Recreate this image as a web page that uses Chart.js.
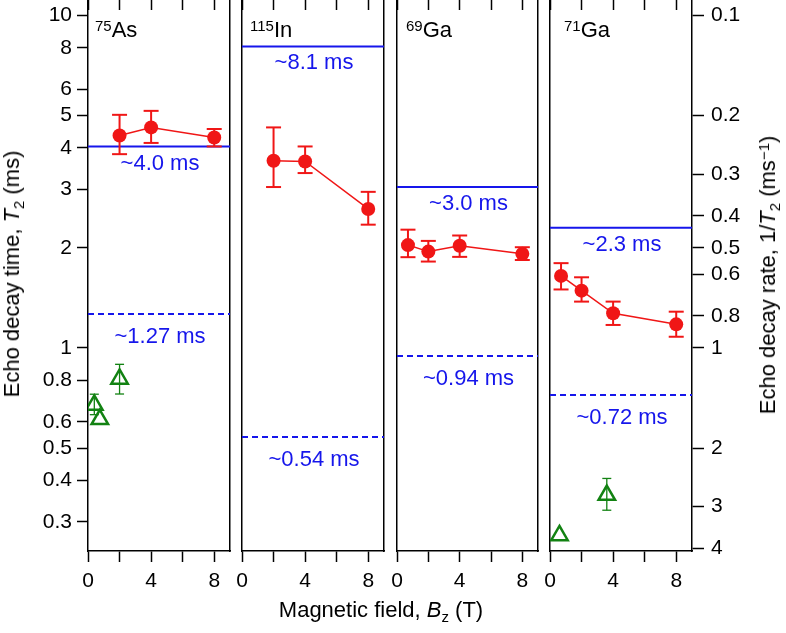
<!DOCTYPE html>
<html>
<head>
<meta charset="utf-8">
<script src="https://cdn.jsdelivr.net/npm/chart.js@4.4.0/dist/chart.umd.min.js"></script>
<style>
  body { margin: 0; background: #fff; }
  #wrap { position: relative; width: 786px; height: 633px; overflow: hidden; font-family: "Liberation Sans", Arial, sans-serif; color: #000; }
  canvas { position: absolute; top: -2px; }
  .lbl { position: absolute; font-size: 22px; line-height: 22px; white-space: nowrap; }
  .sup { font-size: 15px; position: relative; top: -6px; }
  .sub { font-size: 15px; position: relative; top: 5px; }
  .rot { transform: translate(-50%, -50%) rotate(-90deg); }
  .ctr { transform: translate(-50%, -50%); }
</style>
</head>
<body>
<div id="wrap">
  <canvas id="c1" width="232" height="635" style="left:0px"></canvas>
  <canvas id="c2" width="156" height="635" style="left:230px"></canvas>
  <canvas id="c3" width="155" height="635" style="left:385px"></canvas>
  <canvas id="c4" width="248" height="635" style="left:538px"></canvas>

  <div class="lbl" style="left:95px;top:19px"><span class="sup">75</span>As</div>
  <div class="lbl" style="left:250px;top:19px"><span class="sup">115</span>In</div>
  <div class="lbl" style="left:406px;top:19px"><span class="sup">69</span>Ga</div>
  <div class="lbl" style="left:564px;top:19px"><span class="sup">71</span>Ga</div>

  <div class="lbl rot" style="left:13px;top:274px">Echo decay time, <i>T</i><span class="sub">2</span> (ms)</div>
  <div class="lbl rot" style="left:769px;top:275px">Echo decay rate, 1/<i>T</i><span class="sub">2</span> (ms<span class="sup">−1</span>)</div>
  <div class="lbl ctr" style="left:381px;top:611px">Magnetic field, <i>B</i><span class="sub">z</span> (T)</div>
</div>
<script>
// shared axes
const yMin = 0.245;
const yMax = 11.3;
const t2Ticks = [0.3, 0.4, 0.5, 0.6, 0.8, 1, 2, 3, 4, 5, 6, 8, 10];
const rateTicks = [0.1, 0.2, 0.3, 0.4, 0.5, 0.6, 0.8, 1, 2, 3, 4];
const fieldTicks = [0, 2, 4, 6, 8];

// 75As
const asField = [2, 4, 8];
const asT2 = [4.36, 4.61, 4.30];
const asLow = [3.83, 4.14, 4.04];
const asHigh = [5.03, 5.17, 4.56];
const asTriField = [0.4, 0.75, 2];
const asTriT2 = [0.674, 0.61, 0.807];
const asTriLow = [0.63, null, 0.727];
const asTriHigh = [0.726, null, 0.893];
const asLines = [4.04, 1.266];
const asNotes = ['~4.0 ms', '~1.27 ms'];

// 115In
const inField = [2, 4, 8];
const inT2 = [3.66, 3.64, 2.62];
const inLow = [3.05, 3.36, 2.35];
const inHigh = [4.61, 4.04, 2.95];
const inLines = [8.08, 0.54];
const inNotes = ['~8.1 ms', '~0.54 ms'];

// 69Ga
const ga69Field = [0.7, 2, 4, 8];
const ga69T2 = [2.04, 1.95, 2.03, 1.92];
const ga69Low = [1.876, 1.82, 1.88, 1.84];
const ga69High = [2.27, 2.10, 2.18, 2.01];
const ga69Lines = [3.05, 0.946];
const ga69Notes = ['~3.0 ms', '~0.94 ms'];

// 71Ga
const ga71Field = [0.7, 2, 4, 8];
const ga71T2 = [1.648, 1.488, 1.272, 1.178];
const ga71Low = [1.50, 1.379, 1.173, 1.081];
const ga71High = [1.80, 1.632, 1.379, 1.286];
const ga71TriField = [0.6, 3.6];
const ga71TriT2 = [0.273, 0.361];
const ga71TriLow = [null, 0.325];
const ga71TriHigh = [null, 0.405];
const ga71Lines = [2.30, 0.722];
const ga71Notes = ['~2.3 ms', '~0.72 ms'];

const red = 'rgb(240,22,22)';
const blue = 'rgb(22,22,235)';
const green = 'rgb(18,130,18)';
const fontFamily = '"Liberation Sans", Arial, sans-serif';

Chart.defaults.font.family = fontFamily;
Chart.defaults.font.size = 21;
Chart.defaults.color = '#000';

function pts(xs, ys) {
    return xs.map((x, i) => ({ x: x, y: ys[i] }));
}

function errorBars(xs, lo, hi, color, width, cap) {
    const out = [];
    xs.forEach((x, i) => {
        if (lo[i] == null) return;
        out.push({
            data: [{ x: x, y: lo[i] }, { x: x, y: hi[i] }],
            showLine: true,
            borderColor: color,
            borderWidth: width,
            pointStyle: 'line',
            pointRadius: cap,
            pointBorderColor: color,
            pointBorderWidth: width,
            order: 2
        });
    });
    return out;
}

// blue "~x ms" notes under each reference line
const notePlugin = {
    id: 'notes',
    afterDatasetsDraw(chart, args, opts) {
        const { ctx, chartArea, scales } = chart;
        ctx.save();
        ctx.font = '22px ' + fontFamily;
        ctx.fillStyle = blue;
        ctx.textAlign = 'center';
        ctx.textBaseline = 'middle';
        opts.lines.forEach((v, i) => {
            const y = scales.y.getPixelForValue(v) + (i === 0 ? 17 : 23);
            ctx.fillText(opts.labels[i], (chartArea.left + chartArea.right) / 2 + 1, y);
        });
        ctx.restore();
    }
};

const frame = { display: true, color: '#000', width: 1.5 };

// no auto padding from tick labels, so the panels line up exactly
function noPad(s) {
    s.paddingLeft = 0;
    s.paddingRight = 0;
    s.paddingTop = 0;
    s.paddingBottom = 0;
}

function makePanel(p) {
    const datasets = [];
    datasets.push({
        data: pts(p.field, p.t2),
        showLine: true,
        borderColor: red,
        borderWidth: 1.5,
        backgroundColor: red,
        pointBackgroundColor: red,
        pointRadius: 7,
        pointBorderWidth: 0,
        order: 0
    });
    datasets.push(...errorBars(p.field, p.lo, p.hi, red, 2, 7.5));
    if (p.triField) {
        datasets.push({
            data: pts(p.triField, p.triT2),
            showLine: false,
            pointStyle: 'triangle',
            pointRadius: 9.5,
            pointBorderColor: green,
            pointBackgroundColor: 'rgba(0,0,0,0)',
            pointBorderWidth: 2.5,
            order: 0
        });
        datasets.push(...errorBars(p.triField, p.triLo, p.triHi, green, 1.3, 4.5));
    }
    p.lines.forEach((v, i) => {
        datasets.push({
            data: [{ x: 0, y: v }, { x: 9, y: v }],
            showLine: true,
            borderColor: blue,
            borderWidth: 2,
            borderDash: i ? [6, 4] : [],
            pointRadius: 0,
            order: 3
        });
    });

    const leftAxis = p.side === 'left';
    const rightAxis = p.side === 'right';

    const scales = {
        x: {
            type: 'linear', position: 'bottom', min: 0, max: 9, display: true,
            afterBuildTicks: s => { s.ticks = fieldTicks.map(v => ({ value: v })); },
            ticks: { callback: v => (v % 4 === 0 ? String(v) : ''), padding: 7, autoSkip: false, maxRotation: 0 },
            grid: { drawOnChartArea: false, tickLength: 11, tickWidth: 1.5, tickColor: '#000' },
            border: frame,
            afterFit: s => { s.height = 82; noPad(s); }
        },
        xTop: {
            type: 'linear', position: 'top', min: 0, max: 9, display: true,
            afterBuildTicks: s => { s.ticks = fieldTicks.map(v => ({ value: v })); },
            ticks: { display: false },
            grid: { drawOnChartArea: false, tickLength: -12, tickWidth: 1.5, tickColor: '#000' },
            border: frame,
            afterFit: s => { s.height = 0; noPad(s); }
        },
        y: {
            type: 'logarithmic', position: 'left', min: yMin, max: yMax, display: true,
            afterBuildTicks: s => { s.ticks = t2Ticks.map(v => ({ value: v })); },
            ticks: { display: leftAxis, callback: v => String(v), padding: 5, autoSkip: false },
            grid: { drawOnChartArea: false, drawTicks: leftAxis, tickLength: 11, tickWidth: 1.5, tickColor: '#000' },
            border: frame,
            afterFit: s => { s.width = leftAxis ? 88 : 0; noPad(s); }
        },
        yR: rightAxis ? {
            type: 'logarithmic', position: 'right', reverse: true, min: 1 / yMax, max: 1 / yMin, display: true,
            afterBuildTicks: s => { s.ticks = rateTicks.map(v => ({ value: v })); },
            ticks: { callback: v => String(v), padding: 7, autoSkip: false },
            grid: { drawOnChartArea: false, tickLength: 12, tickWidth: 1.5, tickColor: '#000' },
            border: frame,
            afterFit: s => { s.width = 94; noPad(s); }
        } : {
            type: 'logarithmic', position: 'right', min: yMin, max: yMax, display: true,
            ticks: { display: false },
            grid: { drawOnChartArea: false, drawTicks: false },
            border: frame,
            afterFit: s => { s.width = 0; noPad(s); }
        }
    };

    new Chart(document.getElementById(p.canvas), {
        type: 'scatter',
        data: { datasets: datasets },
        options: {
            responsive: false,
            animation: false,
            layout: { autoPadding: false, padding: { left: leftAxis ? 0 : 12, right: rightAxis ? 0 : 2, top: 0, bottom: 0 } },
            scales: scales,
            plugins: {
                legend: { display: false },
                tooltip: { enabled: false },
                notes: { lines: p.lines, labels: p.notes }
            }
        },
        plugins: [notePlugin]
    });
}

makePanel({ canvas: 'c1', side: 'left', field: asField, t2: asT2, lo: asLow, hi: asHigh,
    triField: asTriField, triT2: asTriT2, triLo: asTriLow, triHi: asTriHigh, lines: asLines, notes: asNotes });
makePanel({ canvas: 'c2', side: 'none', field: inField, t2: inT2, lo: inLow, hi: inHigh,
    lines: inLines, notes: inNotes });
makePanel({ canvas: 'c3', side: 'none', field: ga69Field, t2: ga69T2, lo: ga69Low, hi: ga69High,
    lines: ga69Lines, notes: ga69Notes });
makePanel({ canvas: 'c4', side: 'right', field: ga71Field, t2: ga71T2, lo: ga71Low, hi: ga71High,
    triField: ga71TriField, triT2: ga71TriT2, triLo: ga71TriLow, triHi: ga71TriHigh, lines: ga71Lines, notes: ga71Notes });
</script>
</body>
</html>
